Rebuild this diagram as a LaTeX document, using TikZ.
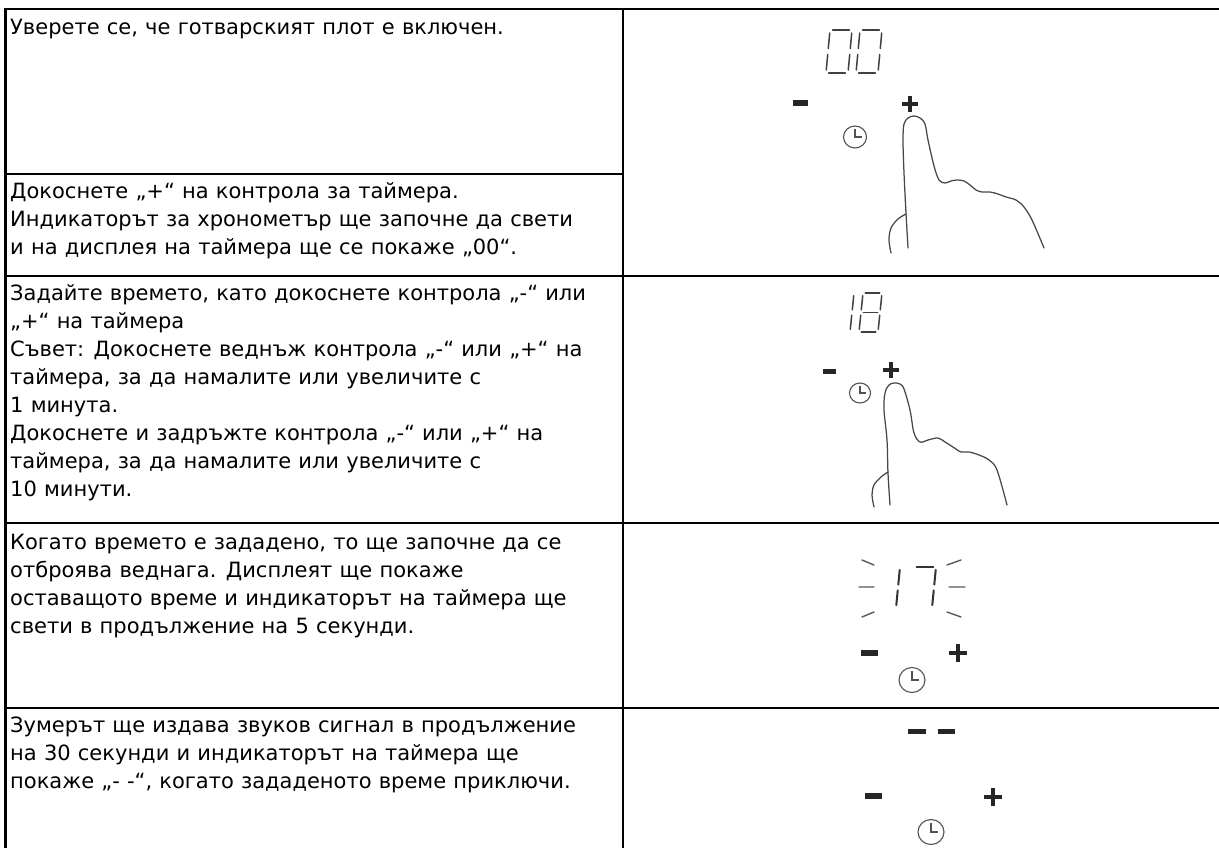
\documentclass[tikz,border=0pt]{standalone}
\usepackage{fontspec}
\setmainfont[WordSpace=1.08]{DejaVu Sans}
\newcommand\cellfont{\fontsize{21pt}{28pt}\selectfont}
% one stroke of a seven-segment digit, in digit-local units
\newcommand\segline[4]{\draw[seg] (#1,#2)--(#3,#4);}
\newcommand\dsega{\segline{0.12}{1}{0.88}{1}}
\newcommand\dsegb{\segline{1}{0.93}{1}{0.57}}
\newcommand\dsegc{\segline{1}{0.43}{1}{0.07}}
\newcommand\dsegd{\segline{0.12}{0}{0.88}{0}}
\newcommand\dsege{\segline{0}{0.43}{0}{0.07}}
\newcommand\dsegf{\segline{0}{0.93}{0}{0.57}}
\newcommand\dsegg{\segline{0.12}{0.5}{0.88}{0.5}}
\newcommand\digitsegs[1]{\foreach \s in {#1} {\csname dseg\s\endcsname}}
\begin{document}
\begin{tikzpicture}[x=1pt,y=-1pt,
  grid/.style={line width=2.4pt, draw=black, line cap=rect},
  celltext/.style={anchor=north west, inner sep=0pt, align=left, font=\cellfont},
  seg/.style={line width=1.5pt, draw=black!75, line cap=round},
  digit/.style n args={5}{shift={(#1,#2)}, x={(#3pt,0pt)}, y={(#5pt,#4pt)}},
  hand/.style={line width=1.25pt, draw=black!72, line cap=round, line join=round},
  keymark/.style={line width=3.6pt, draw=black!85},
  clockface/.style={line width=1.1pt, draw=black!68},
  ray/.style={line width=1.4pt, draw=black!65, line cap=round},
]
\fill[white] (0,0) rectangle (1219,848);
\useasboundingbox (0,0) rectangle (1219,848);

% ---------- table rules ----------
\draw[grid] (5.5,9) -- (1219,9);
\draw[grid] (5.5,9) -- (5.5,848);
\draw[grid] (623,9) -- (623,848);
\draw[grid] (5.5,174) -- (623,174);
\draw[grid] (5.5,276) -- (1219,276);
\draw[grid] (5.5,523) -- (1219,523);
\draw[grid] (5.5,708) -- (1219,708);

% ---------- left column texts ----------
\node[celltext] (t1) at (10,14.4) {\strut Уверете се, че готварският плот е включен.};
\node[celltext] (t2) at (10,178.4) {\strut Докоснете „+“ на контрола за таймера.\\
Индикаторът за хронометър ще започне да свети\\
и на дисплея на таймера ще се покаже „00“.};
\node[celltext] (t3) at (10,280.4) {\strut Задайте времето, като докоснете контрола „-“ или\\
„+“ на таймера\\
Съвет: Докоснете веднъж контрола „-“ или „+“ на\\
таймера, за да намалите или увеличите с\\
1 минута.\\
Докоснете и задръжте контрола „-“ или „+“ на\\
таймера, за да намалите или увеличите с\\
10 минути.};
\node[celltext] (t4) at (10,529.4) {\strut Когато времето е зададено, то ще започне да се\\
отброява веднага. Дисплеят ще покаже\\
оставащото време и индикаторът на таймера ще\\
свети в продължение на 5 секунди.};
\node[celltext] (t5) at (10,712.4) {\strut Зумерът ще издава звуков сигнал в продължение\\
на 30 секунди и индикаторът на таймера ще\\
покаже „- -“, когато зададеното време приключи.};

% ---------- panel 1: display 00, finger on + ----------
\begin{scope}[digit={826}{73}{22}{43}{4}] \digitsegs{a,b,c,d,e,f} \end{scope}
\begin{scope}[digit={856}{73}{22}{43}{4}] \digitsegs{a,b,c,d,e,f} \end{scope}
\fill[black!85] (793,100) rectangle (808,106);
\draw[keymark] (910,96) -- (910,112) (902,104) -- (918,104);
\draw[clockface] (855,137) ellipse [x radius=11.5, y radius=11];
\draw[clockface] (855,129) -- (855,137) -- (862,137);
\draw[hand] plot[smooth, tension=0.55] coordinates {(908,248) (906,213) (904,173) (903,140) (904,124) (908,118) (914,116) (920,118) (925,124) (928,140) (934,166) (939,180) (945,183) (951,181) (957,180) (964,181) (970,185) (976,190) (982,192) (990,192) (998,194) (1006,197) (1016,200) (1024,207) (1032,220) (1044,248)};
\draw[hand] plot[smooth, tension=0.55] coordinates {(906,214) (898,219) (891,228) (889,240) (891,253)};

% ---------- panel 2: display 18, finger on + ----------
\begin{scope}[digit={846}{332}{4}{39}{4}] \digitsegs{b,c} \end{scope}
\begin{scope}[digit={859}{332}{19}{39}{4}] \digitsegs{a,b,c,d,e,f,g} \end{scope}
\fill[black!85] (823,368.5) rectangle (836,374);
\draw[keymark] (891,362) -- (891,378) (883,370) -- (899,370);
\draw[clockface] (860,393) ellipse [x radius=10.5, y radius=10];
\draw[clockface] (860,386) -- (860,393) -- (866,393);
\draw[hand] plot[smooth, tension=0.55] coordinates {(890,505) (888,473) (887,440) (884,410) (885,393) (889,385) (894,383) (900,384) (904,389) (910,410) (914,433) (920,442) (928,440) (938,438) (945,442) (953,447) (961,452) (969,452) (979,455) (989,460) (997,470) (1007,505)};
\draw[hand] plot[smooth, tension=0.55] coordinates {(888,472) (881,477) (874,485) (872,495) (874,507)};

% ---------- panel 3: blinking 17 ----------
\begin{scope}[seg/.append style={line width=2pt, draw=black!80}]
  \begin{scope}[digit={893}{608}{3}{41}{4}] \digitsegs{b,c} \end{scope}
  \begin{scope}[digit={910}{608}{22}{41}{4}] \digitsegs{a,b,c} \end{scope}
\end{scope}
\draw[ray] (862,560) -- (874,565) (859,587) -- (874,587) (862,617) -- (874,612);
\draw[ray] (947,565) -- (961,560) (949,587) -- (965,587) (947,612) -- (961,617);
\fill[black!85] (861,650) rectangle (878,656);
\draw[keymark] (958,644) -- (958,662) (949,653) -- (967,653);
\draw[clockface] (912,680) ellipse [x radius=13, y radius=12.5];
\draw[clockface] (912,671) -- (912,680) -- (919,680);

% ---------- panel 4: end of countdown ----------
\fill[black!85] (908,729) rectangle (926,733.5);
\fill[black!85] (938,729) rectangle (955,733.5);
\fill[black!85] (865,793) rectangle (882,799);
\draw[keymark] (993,788) -- (993,806) (984,797) -- (1002,797);
\draw[clockface] (931,832) ellipse [x radius=13, y radius=12.5];
\draw[clockface] (931,823) -- (931,832) -- (938,832);
\end{tikzpicture}
\end{document}
